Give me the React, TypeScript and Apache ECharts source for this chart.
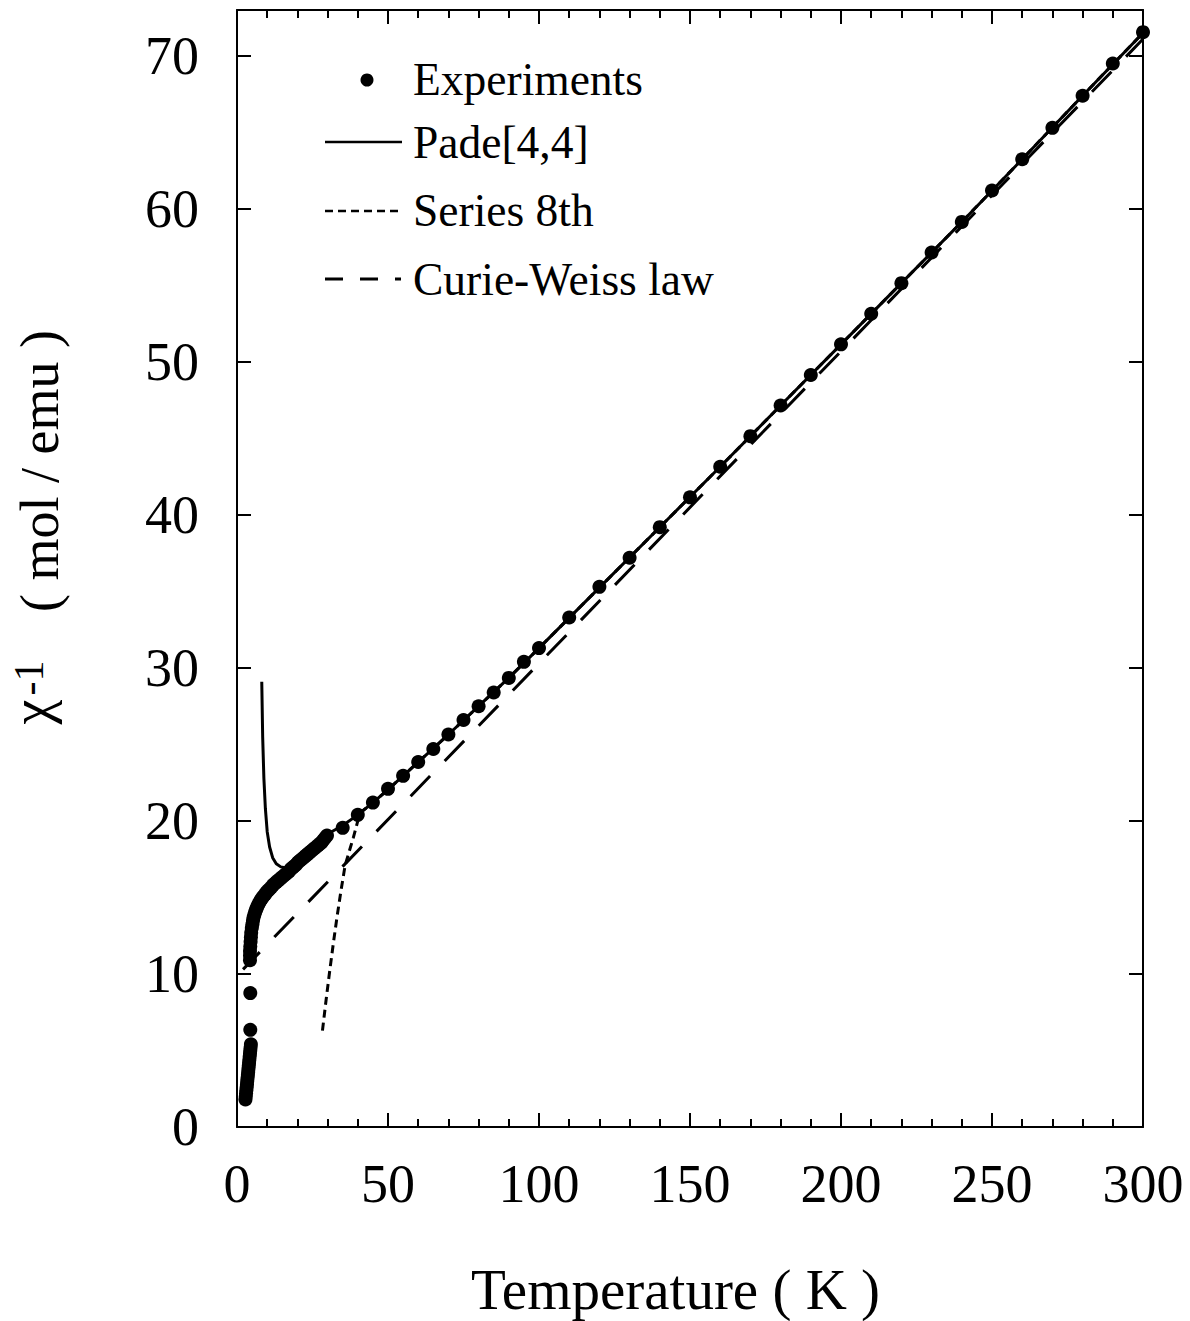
import React, { useEffect, useRef } from 'react';
import * as echarts from 'echarts';

// Experimental points (T in K, inverse susceptibility in mol/emu), 8 per row in both arrays
const expT = [
  2.8, 2.9, 3.0, 3.1, 3.2, 3.3, 3.4, 3.5,
  3.6, 3.7, 3.8, 3.9, 4.0, 4.1, 4.2, 4.3,
  4.4, 4.5, 4.6, 4.4, 4.4, 4.3, 4.3, 4.3,
  4.4, 4.5, 4.6, 4.7, 4.9, 5.1, 5.3, 5.5,
  5.8, 6.1, 6.4, 6.7, 7.1, 7.5, 7.9, 8.3,
  8.8, 9.3, 9.8, 10.3, 10.8, 11.3, 11.9, 12.4,
  13.0, 13.6, 14.2, 14.8, 15.4, 16.0, 16.6, 17.2,
  17.8, 18.4, 19.0, 19.6, 20.2, 20.8, 21.4, 22.0,
  22.6, 23.2, 23.8, 24.4, 25.0, 25.6, 26.2, 26.8,
  27.4, 28.0, 28.6, 29.2, 29.8, 35, 40, 45,
  50, 55, 60, 65, 70, 75, 80, 85,
  90, 95, 100, 110, 120, 130, 140, 150,
  160, 170, 180, 190, 200, 210, 220, 230,
  240, 250, 260, 270, 280, 290, 300,
];
const expChi = [
  1.8, 2.0, 2.2, 2.4, 2.6, 2.8, 3.0, 3.2,
  3.4, 3.6, 3.8, 4.0, 4.2, 4.4, 4.6, 4.8,
  5.0, 5.2, 5.4, 6.35, 8.75, 10.9, 11.2, 11.5,
  11.8, 12.1, 12.4, 12.7, 13.0, 13.25, 13.5, 13.7,
  13.9, 14.1, 14.25, 14.4, 14.55, 14.7, 14.85, 14.95,
  15.1, 15.2, 15.35, 15.45, 15.55, 15.65, 15.8, 15.9,
  16.0, 16.1, 16.2, 16.3, 16.4, 16.5, 16.6, 16.7,
  16.85, 16.95, 17.05, 17.15, 17.3, 17.4, 17.5, 17.6,
  17.7, 17.8, 17.9, 18.0, 18.1, 18.2, 18.3, 18.4,
  18.5, 18.6, 18.75, 18.9, 19.05, 19.55, 20.4, 21.2,
  22.1, 22.95, 23.85, 24.7, 25.65, 26.6, 27.5, 28.4,
  29.35, 30.4, 31.3, 33.3, 35.3, 37.2, 39.2, 41.15,
  43.15, 45.15, 47.15, 49.15, 51.15, 53.15, 55.15, 57.15,
  59.15, 61.2, 63.25, 65.3, 67.4, 69.5, 71.55,
];

// Pade[4,4] curve
const padeT = [8.2, 8.5, 8.9, 9.4, 10.0, 10.8, 11.8, 13.0, 14.5, 16.0, 17.5, 20, 25, 30, 35, 40, 45, 50, 60, 70, 80, 90, 100, 120, 140, 160, 180, 200, 220, 240, 260, 280, 300];
const padeChi = [29.1, 25.5, 22.8, 20.8, 19.3, 18.3, 17.6, 17.2, 17.0, 16.95, 17.05, 17.45, 18.3, 19.15, 19.7, 20.4, 21.2, 22.05, 23.85, 25.65, 27.5, 29.35, 31.3, 35.25, 39.2, 43.15, 47.15, 51.15, 55.15, 59.15, 63.25, 67.4, 71.5];

// Series 8th curve
const serT = [28.3, 29.5, 30.7, 31.9, 33.1, 34.4, 35.8, 37.0, 38.5, 40.0, 41.5, 45, 50, 60, 70, 80, 90, 100, 120, 140, 160, 180, 200, 220, 240, 260, 280, 300];
const serChi = [6.3, 8.3, 10.2, 12.0, 13.7, 15.4, 17.1, 17.9, 18.9, 20.0, 20.65, 21.2, 22.05, 23.85, 25.65, 27.5, 29.35, 31.3, 35.25, 39.2, 43.15, 47.15, 51.15, 55.15, 59.15, 63.25, 67.4, 71.5];

// Curie-Weiss law (straight line)
const cwT = [2, 300];
const cwChi = [10.3, 71.1];

const xTicks = [0, 50, 100, 150, 200, 250, 300];
const yTicks = [0, 10, 20, 30, 40, 50, 60, 70];

const FONT = '"Liberation Serif", "Times New Roman", serif';

const zip = (a: number[], b: number[]) => a.map((v, i) => [v, b[i]]);

function buildOption() {
  const axisLine = { show: true, onZero: false, lineStyle: { color: '#000', width: 2 } };
  const tickStyle = { color: '#000', width: 2 };
  const xBase = {
    type: 'value' as const,
    min: xTicks[0],
    max: xTicks[xTicks.length - 1],
    interval: 50,
    axisLine,
    splitLine: { show: false },
    axisTick: { show: true, inside: true, length: 14, lineStyle: tickStyle },
    minorTick: { show: true, splitNumber: 5, length: 8, lineStyle: tickStyle },
    minorSplitLine: { show: false },
  };
  const yBase = {
    type: 'value' as const,
    min: yTicks[0],
    max: 73,
    interval: 10,
    axisLine,
    splitLine: { show: false },
    axisTick: { show: true, inside: true, length: 14, lineStyle: tickStyle },
  };
  const legendY = [79, 142, 210, 279];
  const legendText = (t: string, y: number) => ({
    type: 'text',
    x: 413,
    y,
    style: { text: t, fontSize: 45.5, fontFamily: FONT, fill: '#000', align: 'left', verticalAlign: 'middle' },
    z: 100,
  });
  return {
    animation: false,
    backgroundColor: '#fff',
    grid: { left: 237, right: 47, top: 10, bottom: 194, containLabel: false },
    xAxis: [
      {
        ...xBase,
        position: 'bottom',
        axisLabel: {
          show: true,
          fontSize: 54,
          fontFamily: FONT,
          color: '#000',
          margin: 30,
          formatter: (v: number) => (xTicks.includes(v) ? String(v) : ''),
        },
      },
      { ...xBase, position: 'top', axisLabel: { show: false } },
    ],
    yAxis: [
      {
        ...yBase,
        position: 'left',
        axisLabel: {
          show: true,
          fontSize: 54,
          fontFamily: FONT,
          color: '#000',
          margin: 38,
          showMaxLabel: false,
          padding: [0, 0, 16, 0],
          formatter: (v: number) => (yTicks.includes(v) ? String(v) : ''),
        },
      },
      { ...yBase, position: 'right', axisLabel: { show: false } },
    ],
    series: [
      {
        name: 'Curie-Weiss law',
        type: 'line',
        data: zip(cwT, cwChi),
        showSymbol: false,
        symbol: 'none',
        lineStyle: { color: '#000', width: 3, type: [28, 21], dashOffset: 4 },
        z: 2,
      },
      {
        name: 'Series 8th',
        type: 'line',
        data: zip(serT, serChi),
        showSymbol: false,
        symbol: 'none',
        lineStyle: { color: '#000', width: 3, type: [8, 5] },
        z: 3,
      },
      {
        name: 'Pade[4,4]',
        type: 'line',
        data: zip(padeT, padeChi),
        showSymbol: false,
        symbol: 'none',
        lineStyle: { color: '#000', width: 3, type: 'solid' },
        z: 4,
      },
      {
        name: 'Experiments',
        type: 'scatter',
        data: zip(expT, expChi),
        symbol: 'circle',
        symbolSize: 14,
        itemStyle: { color: '#000', opacity: 1 },
        z: 5,
      },
    ],
    graphic: [
      { type: 'circle', shape: { cx: 367, cy: 80, r: 6.5 }, style: { fill: '#000' }, z: 100 },
      legendText('Experiments', legendY[0]),
      { type: 'line', shape: { x1: 325, y1: 142, x2: 402, y2: 142 }, style: { stroke: '#000', lineWidth: 2.5 }, z: 100 },
      legendText('Pade[4,4]', legendY[1]),
      { type: 'line', shape: { x1: 325, y1: 211, x2: 402, y2: 211 }, style: { stroke: '#000', lineWidth: 2.5, lineDash: [8, 5] }, z: 100 },
      legendText('Series 8th', legendY[2]),
      { type: 'line', shape: { x1: 325, y1: 279, x2: 401, y2: 279 }, style: { stroke: '#000', lineWidth: 3, lineDash: [18, 17] }, z: 100 },
      legendText('Curie-Weiss law', legendY[3]),
      {
        type: 'text',
        x: 471,
        y: 1289,
        style: { text: 'Temperature ( K )', fontSize: 57, fontFamily: FONT, fill: '#000', align: 'left', verticalAlign: 'middle' },
      },
      {
        type: 'text',
        x: 31,
        y: 712,
        rotation: Math.PI / 2,
        style: { text: 'χ', fontSize: 56, fontFamily: FONT, fill: '#000', align: 'center', verticalAlign: 'middle' },
      },
      {
        type: 'text',
        x: 29,
        y: 678,
        rotation: Math.PI / 2,
        style: { text: '-1', fontSize: 42, fontFamily: FONT, fill: '#000', align: 'center', verticalAlign: 'middle' },
      },
      {
        type: 'text',
        x: 40,
        y: 471,
        rotation: Math.PI / 2,
        style: { text: '( mol / emu )', fontSize: 54, fontFamily: FONT, fill: '#000', align: 'center', verticalAlign: 'middle' },
      },
    ],
  };
}

export default function App() {
  const ref = useRef<HTMLDivElement>(null);
  useEffect(() => {
    if (!ref.current) return;
    const chart = echarts.init(ref.current, null, { renderer: 'svg' });
    chart.setOption(buildOption() as any);
    return () => chart.dispose();
  }, []);
  return (
    <div
      ref={ref}
      style={{ position: 'absolute', left: 0, top: 0, width: 1190, height: 1321, background: '#fff' }}
    />
  );
}
